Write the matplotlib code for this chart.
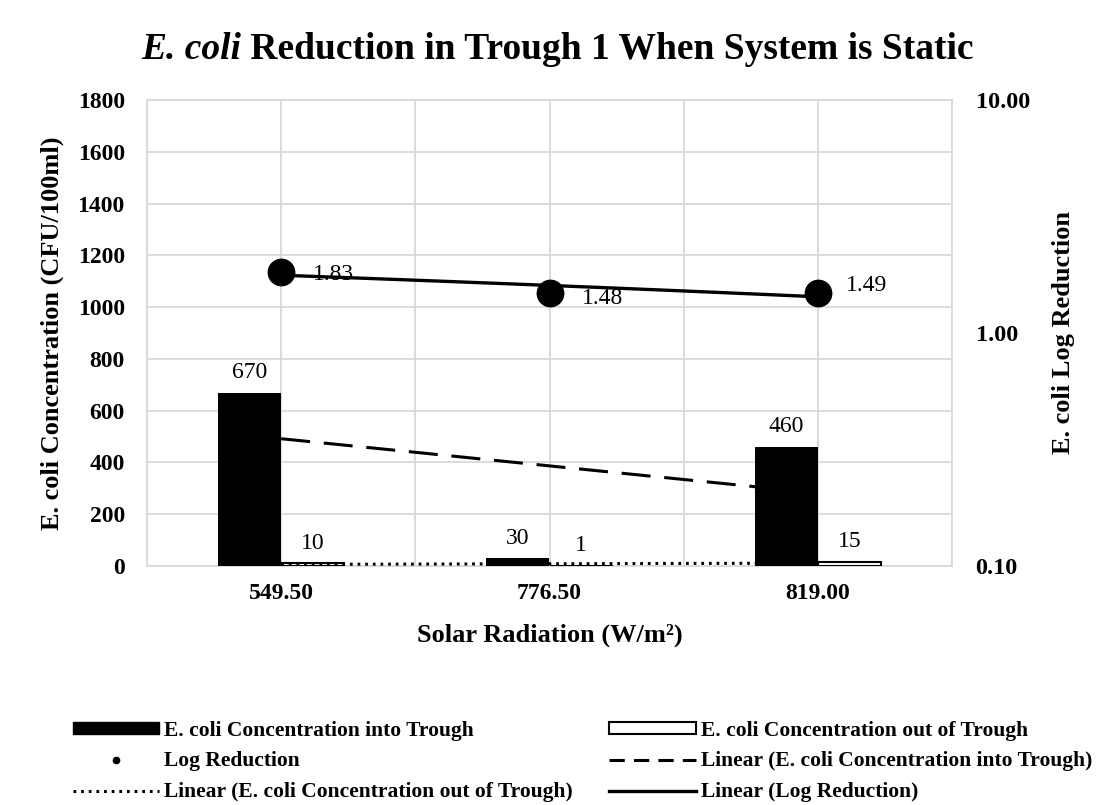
import numpy as np
import matplotlib
matplotlib.use("Agg")
import matplotlib.pyplot as plt
from matplotlib.patches import Patch
from matplotlib.lines import Line2D

# ---------------- data ----------------
radiation_labels = ["549.50", "776.50", "819.00"]
conc_into = [670, 30, 460]
conc_out = [10, 1, 15]
log_reduction = [1.83, 1.48, 1.49]
left_ticks = [0, 200, 400, 600, 800, 1000, 1200, 1400, 1600, 1800]
right_ticks = [0.1, 1.0, 10.0]
right_tick_labels = ["0.10", "1.00", "10.00"]

plt.rcParams['font.family'] = ['Liberation Serif', 'DejaVu Serif']

W, H = 1108, 805
fig = plt.figure(figsize=(W / 100, H / 100), dpi=100)
L, R, T, B = 147, 952, 100, 566
ax = fig.add_axes([L / W, 1 - B / H, (R - L) / W, (B - T) / H])

grid_c = '#d9d9d9'
x = np.arange(len(radiation_labels))
w = 0.235

ax.bar(x - w / 2, conc_into, w, color='black', zorder=3)
ax.bar(x + w / 2, conc_out, w, facecolor='white', edgecolor='black',
       linewidth=1.5, zorder=3)

ax.set_xlim(-0.5, len(x) - 0.5)
ax.set_ylim(left_ticks[0], left_ticks[-1])
ax.set_yticks(left_ticks)
ax.set_xticks(x, radiation_labels)
for gx in np.arange(-0.5, len(x) - 0.49, 0.5):
    ax.axvline(gx, color=grid_c, lw=1.3, zorder=0)
ax.yaxis.grid(True, color=grid_c, lw=1.3, zorder=0)
ax.set_axisbelow(True)
for s in ax.spines.values():
    s.set_color(grid_c)
    s.set_linewidth(1.3)
ax.tick_params(axis='both', length=0, labelsize=17)
ax.tick_params(axis='x', pad=12)
ax.tick_params(axis='y', pad=16)
for lab in ax.get_xticklabels() + ax.get_yticklabels():
    lab.set_fontweight('bold')

# trendlines for the bars
xs = np.linspace(x[0], x[-1], 100)
p_in = np.polyfit(x, conc_into, 1)
ax.plot(xs, np.polyval(p_in, xs), color='black', lw=2.2,
        ls=(0, (9.5, 4.5)), zorder=4)
p_out = np.polyfit(x, conc_out, 1)
ax.plot(xs, np.polyval(p_out, xs), color='black', lw=2.2,
        ls=(0, (0.9, 1.6)), zorder=4)

# bar data labels
for i, v in enumerate(conc_into):
    ax.annotate(str(v), (x[i] - w / 2, v), xytext=(0, 7),
                textcoords='offset points', ha='center', va='bottom',
                fontsize=17, zorder=6)
for i, v in enumerate(conc_out):
    ax.annotate(str(v), (x[i] + w / 2, v), xytext=(0, 7),
                textcoords='offset points', ha='center', va='bottom',
                fontsize=17, zorder=6)

# secondary axis
ax2 = ax.twinx()
ax2.set_yscale('log')
ax2.set_ylim(right_ticks[0], right_ticks[-1])
ax2.set_yticks(right_ticks, right_tick_labels)
ax2.yaxis.set_minor_locator(matplotlib.ticker.NullLocator())
for s in ax2.spines.values():
    s.set_visible(False)
ax2.tick_params(axis='y', length=0, labelsize=17.5, pad=17)
for lab in ax2.get_yticklabels():
    lab.set_fontweight('bold')

p_log = np.polyfit(x, log_reduction, 1)
ax2.plot(xs, np.polyval(p_log, xs), color='black', lw=2.4, zorder=5)
ax2.plot(x, log_reduction, 'o', color='black', ms=19, zorder=6)
label_dx = [23, 23, 20]
label_dy = [-2, -4, 5]
for i, v in enumerate(log_reduction):
    ax2.annotate(f"{v:.2f}", (x[i], v), xytext=(label_dx[i], label_dy[i]),
                 textcoords='offset points', ha='left', va='center',
                 fontsize=17, zorder=7)

# axis labels
ax.set_ylabel("E. coli Concentration (CFU/100ml)", fontsize=19,
              fontweight='bold', labelpad=10)
ax2.set_ylabel("E. coli Log Reduction", fontsize=19, fontweight='bold',
               labelpad=16)
ax.set_xlabel("Solar Radiation (W/m²)", fontsize=19, fontweight='bold',
              labelpad=14)

# title with italic part
fig.canvas.draw()
rend = fig.canvas.get_renderer()
ty = 1 - 59 / H
t1 = fig.text(0, ty, "E. coli", fontsize=27, fontweight='bold',
              fontstyle='italic', va='baseline', ha='left')
t2 = fig.text(0, ty, " Reduction in Trough 1 When System is Static",
              fontsize=27, fontweight='bold', va='baseline', ha='left')
w1 = t1.get_window_extent(rend).width
w2 = t2.get_window_extent(rend).width
cx = 557
x0 = cx - (w1 + w2) / 2
t1.set_x(x0 / W)
t2.set_x((x0 + w1) / W)

# legend
handles = [
    Patch(facecolor='black', edgecolor='black'),
    Line2D([], [], marker='o', ls='none', color='black', ms=4.5),
    Line2D([], [], color='black', lw=2.2, ls=(0, (0.9, 1.6))),
    Patch(facecolor='white', edgecolor='black', linewidth=1.5),
    Line2D([], [], color='black', lw=2.2, ls=(0, (5, 3))),
    Line2D([], [], color='black', lw=2.4),
]
labels = [
    "E. coli Concentration into Trough",
    "Log Reduction",
    "Linear (E. coli Concentration out of Trough)",
    "E. coli Concentration out of Trough",
    "Linear (E. coli Concentration into Trough)",
    "Linear (Log Reduction)",
]
leg = fig.legend(handles, labels, ncol=2, loc='upper left',
                 bbox_to_anchor=(64 / W, 1 - 712 / H), frameon=False,
                 prop={'family': ['Liberation Serif'], 'weight': 'bold',
                       'size': 15.5},
                 handlelength=4.0, handleheight=0.42, handletextpad=0.25,
                 columnspacing=1.7, labelspacing=0.5, borderaxespad=0)

fig.savefig("out.png", dpi=100)
